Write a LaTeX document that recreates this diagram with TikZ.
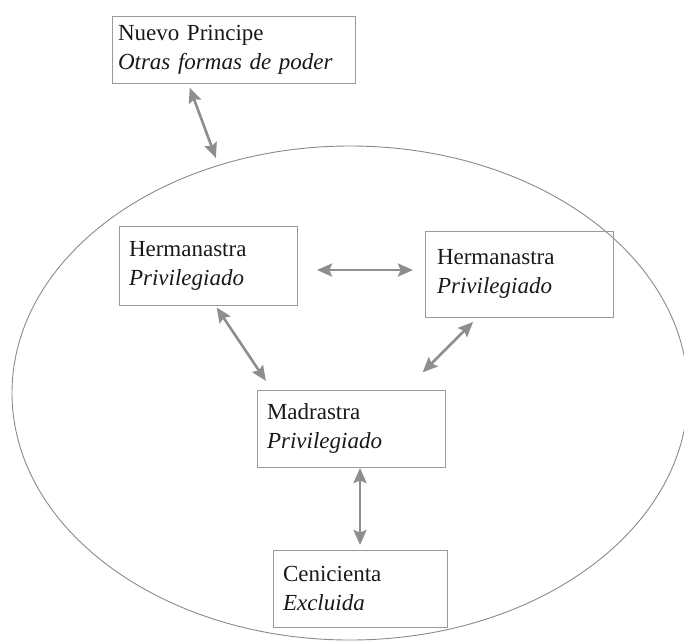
\documentclass[tikz,border=0pt]{standalone}
\usepackage{fontspec}
\setmainfont{Liberation Serif}
\usepackage{tikz}
\usetikzlibrary{shapes.geometric, arrows.meta}
\definecolor{BoxGray}  {HTML}{9A9A9A}
\definecolor{ArrowGray}{HTML}{8E8E8E}
\definecolor{RingGray} {HTML}{8A8A8A}

\begin{document}
\begin{tikzpicture}[
  x=1pt, y=-1pt,
  every node/.style={font=\fontsize{23}{29}\selectfont, text=black!90},
  rolebox/.style={draw=BoxGray, line width=0.9pt, align=left,
                  inner xsep=10pt, inner ysep=0pt, outer sep=0pt},
  tip/.tip={Stealth[length=15pt, width=13pt, inset=2.5pt]},
  link/.style={draw=ArrowGray, line width=2.6pt, tip-tip},
]
\useasboundingbox (0,0) rectangle (684,642);
\clip (0,0) rectangle (684,642);

% Circle of privilege
\node[draw=RingGray, line width=0.9pt, ellipse, minimum width=676pt,
      minimum height=494pt, inner sep=0pt, outer sep=0pt] (world) at (350,393) {};

% Boxes
\node[rolebox, inner xsep=6pt, text width=231pt, minimum height=67pt]
  (principe) at (233.5,49.5) {Nuevo Principe\\\textit{Otras formas de poder}};
\node[rolebox, text width=158pt, minimum height=79pt]
  (hermL) at (208,265.5) {Hermanastra\\\textit{Privilegiado}};
\node[rolebox, inner xsep=12pt, text width=164pt, minimum height=86pt]
  (hermR) at (519,274) {Hermanastra\\\textit{Privilegiado}};
\node[rolebox, text width=168pt, minimum height=77pt]
  (madrastra) at (351,428.5) {Madrastra\\\textit{Privilegiado}};
\node[rolebox, text width=154pt, minimum height=77pt]
  (cenicienta) at (360,588.5) {Cenicienta\\\textit{Excluida}};

% Relations
\draw[link, shorten <=5pt, shorten >=8pt]
  ([xshift=-45.5pt]principe.south) -- (world.120);
\draw[link, shorten <=20pt, shorten >=12pt]
  ([yshift=-4.5pt]hermL.east) -- ([yshift=4pt]hermR.west);
\draw[link, shorten <=3pt, shorten >=11pt]
  ([xshift=7pt]hermL.south) -- ([xshift=-79pt]madrastra.north);
\draw[link, shorten <=7pt, shorten >=25pt]
  ([xshift=-41pt]hermR.south) -- ([xshift=54pt]madrastra.north);
\draw[link, shorten <=1pt, shorten >=5pt]
  ([xshift=9pt]madrastra.south) -- (cenicienta.north);

\end{tikzpicture}
\end{document}
